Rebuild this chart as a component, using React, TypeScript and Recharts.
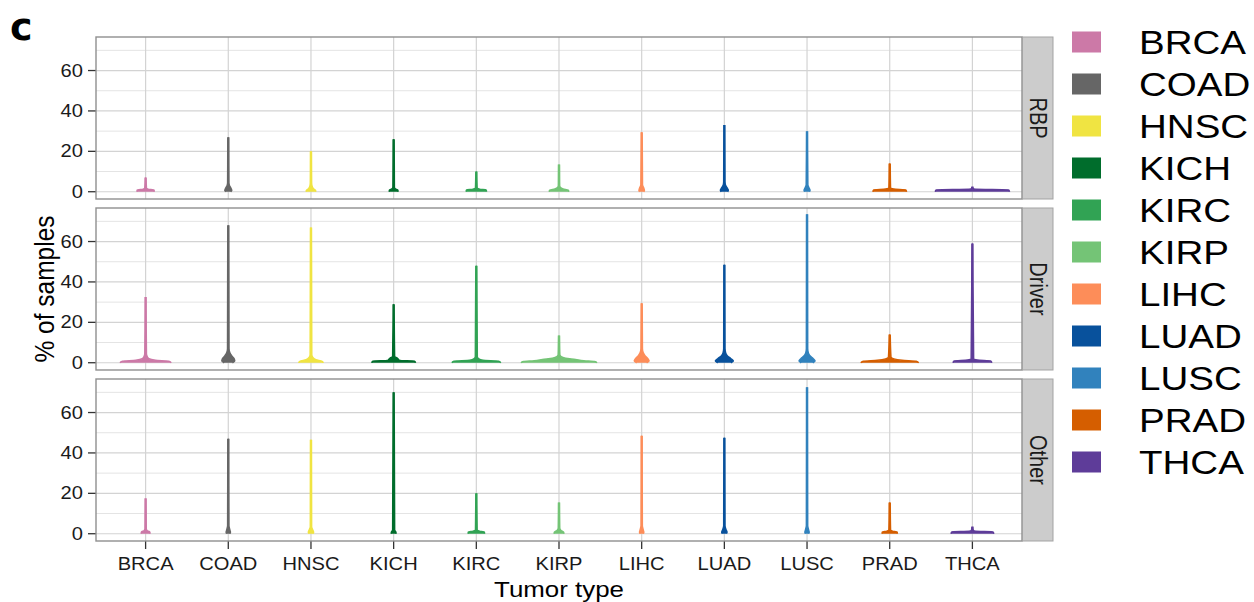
import { Area, CartesianGrid, ComposedChart, XAxis, YAxis } from "recharts";

type Profile = [number, number][];

const tumorTypes = ["BRCA", "COAD", "HNSC", "KICH", "KIRC", "KIRP", "LIHC", "LUAD", "LUSC", "PRAD", "THCA"];
const tumorColors = [
  "#CC79A7", "#666666", "#F0E442", "#006D2C", "#31A354", "#74C476",
  "#FD8D59", "#08519C", "#3182BD", "#D55E00", "#5E3C99",
];
const facetNames = ["RBP", "Driver", "Other"];
const yTicks = [0, 20, 40, 60];
const yMinorGrid = [10, 30, 50, 70];

// violin outlines: [% of samples, half width in category units], one list per tumor type
const rbpProfiles: Profile[] = [
  [[0, 0.105], [0.9, 0.1], [1.3, 0.03], [1.8, 0.01], [7, 0.006]],
  [[0, 0.03], [0.6, 0.042], [1.5, 0.035], [3, 0.015], [4.5, 0.008], [27, 0.006]],
  [[0, 0.06], [0.7, 0.055], [1.5, 0.03], [3, 0.012], [4.5, 0.008], [20, 0.006]],
  [[0, 0.054], [0.9, 0.05], [1.4, 0.02], [2.2, 0.009], [26, 0.006]],
  [[0, 0.125], [0.9, 0.118], [1.3, 0.04], [2, 0.01], [10, 0.006]],
  [[0, 0.12], [0.8, 0.11], [1.4, 0.05], [2.2, 0.015], [3, 0.008], [13.5, 0.006]],
  [[0, 0.025], [0.6, 0.033], [1.8, 0.025], [3.5, 0.01], [29.5, 0.006]],
  [[0, 0.04], [0.7, 0.048], [1.8, 0.035], [3.5, 0.012], [5, 0.008], [33, 0.006]],
  [[0, 0.03], [0.7, 0.036], [1.8, 0.025], [3.5, 0.01], [30, 0.006]],
  [[0, 0.205], [0.9, 0.195], [1.3, 0.05], [1.9, 0.01], [14, 0.006]],
  [[0, 0.45], [0.9, 0.44], [1.2, 0.04], [1.6, 0.01], [2.5, 0.006]],
];

const driverProfiles: Profile[] = [
  [[0, 0.31], [0.8, 0.28], [1.2, 0.12], [2, 0.04], [3, 0.02], [4.5, 0.01], [32.5, 0.006]],
  [[0, 0.05], [0.8, 0.078], [2, 0.07], [3.5, 0.04], [5, 0.018], [7, 0.009], [68, 0.006]],
  [[0, 0.15], [0.7, 0.135], [1.5, 0.06], [2.5, 0.025], [4, 0.01], [67, 0.006]],
  [[0, 0.266], [0.8, 0.25], [1.1, 0.07], [1.6, 0.06], [2.4, 0.04], [3.1, 0.012], [29, 0.006]],
  [[0, 0.296], [0.8, 0.27], [1.2, 0.08], [1.9, 0.03], [3, 0.012], [48, 0.006]],
  [[0, 0.46], [0.6, 0.43], [1, 0.3], [1.6, 0.2], [2.2, 0.08], [3, 0.025], [4, 0.01], [13.5, 0.006]],
  [[0, 0.06], [0.8, 0.09], [2, 0.075], [3.5, 0.04], [5, 0.018], [7, 0.009], [29.5, 0.006]],
  [[0, 0.08], [0.8, 0.109], [2, 0.08], [3.5, 0.035], [5, 0.015], [7, 0.008], [48.5, 0.006]],
  [[0, 0.07], [0.8, 0.097], [2, 0.075], [3.5, 0.035], [5, 0.015], [7, 0.008], [73.5, 0.006]],
  [[0, 0.35], [0.7, 0.32], [1.2, 0.15], [1.9, 0.05], [2.8, 0.015], [14, 0.006]],
  [[0, 0.236], [0.9, 0.22], [1.3, 0.06], [1.9, 0.015], [59, 0.006]],
];

const otherProfiles: Profile[] = [
  [[0, 0.054], [0.9, 0.05], [1.5, 0.02], [2.5, 0.008], [17.5, 0.006]],
  [[0, 0.02], [0.7, 0.026], [2, 0.018], [4, 0.008], [47, 0.006]],
  [[0, 0.025], [0.7, 0.032], [2, 0.02], [3.5, 0.008], [46.5, 0.006]],
  [[0, 0.03], [0.7, 0.028], [2, 0.012], [70, 0.006]],
  [[0, 0.1], [0.9, 0.095], [1.3, 0.04], [2, 0.01], [20, 0.006]],
  [[0, 0.06], [0.8, 0.055], [1.6, 0.025], [2.8, 0.009], [15.5, 0.006]],
  [[0, 0.02], [0.7, 0.026], [2, 0.018], [4, 0.008], [48.5, 0.006]],
  [[0, 0.025], [0.7, 0.032], [2, 0.02], [4, 0.008], [47.5, 0.006]],
  [[0, 0.02], [0.7, 0.026], [2, 0.018], [4, 0.008], [72.5, 0.006]],
  [[0, 0.093], [0.9, 0.088], [1.3, 0.035], [2, 0.01], [15.5, 0.006]],
  [[0, 0.26], [0.9, 0.25], [1.2, 0.04], [1.8, 0.01], [3.5, 0.006]],
];

const FONT = "'Liberation Sans', Arial, sans-serif";
const STRETCH = 1.15;
const PANEL_LEFT = 96;
const PANEL_RIGHT = 1022;
const PANEL_H = 162;
const PANEL_TOPS = [37, 208, 379];
const X_AXIS_H = 40;
const positions = tumorTypes.map((_, i) => i + 1);

function violinRows(profile: Profile, pos: number) {
  return profile.map(([v, hw]) => ({ v, w: [pos - hw, pos + hw] }));
}

const YTick = (props: any) => {
  const { x, y, payload } = props;
  return (
    <text
      transform={`translate(${x},${y}) scale(${STRETCH},1)`}
      textAnchor="end"
      dominantBaseline="central"
      fontSize={17.5}
      fontFamily={FONT}
      fill="#1a1a1a"
    >
      {payload.value}
    </text>
  );
};

const XTick = (props: any) => {
  const { x, y, payload } = props;
  return (
    <text
      transform={`translate(${x},${y}) scale(${STRETCH},1)`}
      textAnchor="middle"
      dy="0.71em"
      fontSize={17.5}
      fontFamily={FONT}
      fill="#1a1a1a"
    >
      {tumorTypes[payload.value - 1]}
    </text>
  );
};

function Panel({ profiles, top, showX }: { profiles: Profile[]; top: number; showX: boolean }) {
  const height = PANEL_H + 4 + (showX ? X_AXIS_H : 0);
  return (
    <div style={{ position: "absolute", left: 0, top: top - 2 }}>
      <ComposedChart
        layout="vertical"
        width={PANEL_RIGHT + 38}
        height={height}
        margin={{ top: 2, right: 38, bottom: 2, left: 36 }}
      >
        <CartesianGrid horizontalValues={yMinorGrid} vertical={false} stroke="#e4e4e4" strokeWidth={1} />
        <CartesianGrid horizontalValues={yTicks} verticalValues={positions} stroke="#d3d3d3" strokeWidth={1.2} />
        <XAxis
          type="number"
          domain={[0.4, 11.6]}
          ticks={positions}
          interval={0}
          allowDataOverflow
          hide={!showX}
          height={X_AXIS_H}
          axisLine={false}
          tickLine={{ stroke: "#333333", strokeWidth: 1.3 }}
          tickSize={8}
          tickMargin={9}
          tick={XTick}
        />
        {/* vertical layout runs numeric y top-down, so flip it */}
        <YAxis
          type="number"
          dataKey="v"
          reversed
          domain={[-3.6, 76.6]}
          ticks={yTicks}
          interval={0}
          allowDataOverflow
          width={60}
          axisLine={false}
          tickLine={{ stroke: "#333333", strokeWidth: 1.3 }}
          tickSize={8}
          tickMargin={5}
          tick={YTick}
        />
        {profiles.map((p, i) => (
          <Area
            key={tumorTypes[i]}
            data={violinRows(p, i + 1)}
            dataKey="w"
            type="monotone"
            fill={tumorColors[i]}
            fillOpacity={1}
            stroke={tumorColors[i]}
            strokeWidth={1.5}
            strokeLinejoin="round"
            dot={false}
            activeDot={false}
            isAnimationActive={false}
          />
        ))}
      </ComposedChart>
    </div>
  );
}

export default function App() {
  const allProfiles = [rbpProfiles, driverProfiles, otherProfiles];
  return (
    <div style={{ position: "absolute", left: 0, top: 0, width: 1254, height: 602, background: "#ffffff" }}>
      {allProfiles.map((p, k) => (
        <Panel key={facetNames[k]} profiles={p} top={PANEL_TOPS[k]} showX={k === 2} />
      ))}
      <svg
        width={1254}
        height={602}
        style={{ position: "absolute", left: 0, top: 0, pointerEvents: "none" }}
        fontFamily={FONT}
      >
        <text x={10} y={40} fontFamily="'DejaVu Sans', sans-serif" fontWeight="bold" fontSize={38} fill="#000">
          c
        </text>
        {PANEL_TOPS.map((t, k) => (
          <g key={facetNames[k]}>
            <rect
              x={PANEL_LEFT}
              y={t}
              width={PANEL_RIGHT - PANEL_LEFT}
              height={PANEL_H}
              fill="none"
              stroke="#8f8f8f"
              strokeWidth={1.4}
            />
            <rect x={PANEL_RIGHT + 0.5} y={t} width={30.5} height={PANEL_H} fill="#cccccc" stroke="#a3a3a3" strokeWidth={1} />
            <text
              transform={`translate(${PANEL_RIGHT + 16},${t + PANEL_H / 2}) scale(${STRETCH},1) rotate(90)`}
              textAnchor="middle"
              dominantBaseline="central"
              fontSize={20}
              fill="#1a1a1a"
            >
              {facetNames[k]}
            </text>
          </g>
        ))}
        <text
          transform={`translate(44,${PANEL_TOPS[1] + PANEL_H / 2}) scale(${STRETCH},1) rotate(-90)`}
          textAnchor="middle"
          dominantBaseline="central"
          fontSize={24.5}
          fill="#000"
        >
          % of samples
        </text>
        <text
          transform={`translate(559,589) scale(${STRETCH},1)`}
          textAnchor="middle"
          dominantBaseline="central"
          fontSize={22.5}
          fill="#000"
        >
          Tumor type
        </text>
        {tumorTypes.map((name, i) => (
          <g key={name}>
            <rect x={1072} y={42 + 42 * i - 10.5} width={29} height={21} fill={tumorColors[i]} />
            <text
              transform={`translate(1139,${42 + 42 * i}) scale(${STRETCH},1)`}
              dominantBaseline="central"
              fontSize={33.5}
              fill="#000"
            >
              {name}
            </text>
          </g>
        ))}
      </svg>
    </div>
  );
}
